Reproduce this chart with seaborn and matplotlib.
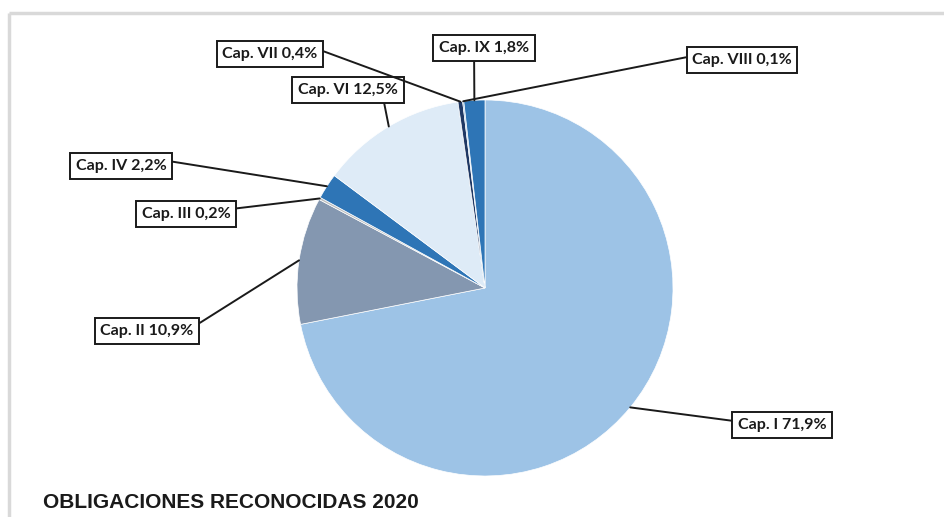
import matplotlib
matplotlib.use("Agg")
import matplotlib.pyplot as plt
import seaborn as sns
import numpy as np

# data
capitulos = ["Cap. I", "Cap. II", "Cap. III", "Cap. IV", "Cap. VI", "Cap. VII", "Cap. VIII", "Cap. IX"]
porcentajes = [71.9, 10.9, 0.2, 2.2, 12.5, 0.4, 0.1, 1.8]
colores = ["#9DC3E6", "#8497B0", "#BFBFBF", "#2E75B6", "#DEEBF7", "#1F3864", "#5B9BD5", "#2E75B6"]
titulo = "OBLIGACIONES RECONOCIDAS 2020"

# label box centres in pixels (from top-left) and where the leader leaves the box
label_pos = [(782, 425), (147, 331), (186, 214), (121, 166), (348, 90), (270, 54), (742, 60), (484, 48)]
rel_pos = [(0, 0.75), (1, 0.8), (1, 0.85), (1, 0.88), (0.85, 0), (1, 0.85), (0, 0.78), (0.39, 0)]

W, H = 944, 517
sns.set_theme(style="white")
plt.rcParams['font.family'] = ['Liberation Sans', 'DejaVu Sans']

fig = plt.figure(figsize=(W / 100, H / 100), dpi=100)
ax = fig.add_axes([0, 0, 1, 1])

cx, cy, r = 485, H - 288, 188
wedges, _ = ax.pie(porcentajes, colors=colores, startangle=90, counterclock=False,
                   center=(cx, cy), radius=r,
                   wedgeprops=dict(edgecolor="white", linewidth=0.5))
ax.set_xlim(0, W)
ax.set_ylim(0, H)
ax.set_aspect("equal")
ax.axis("off")

# leader lines + boxed labels
for w, cap, p, (lx, ly), rp in zip(wedges, capitulos, porcentajes, label_pos, rel_pos):
    ang = np.deg2rad((w.theta1 + w.theta2) / 2)
    anchor = (cx + r * np.cos(ang), cy + r * np.sin(ang))
    txt = f"{cap} {str(p).replace('.', ',')}%"
    ax.annotate(txt, xy=anchor, xytext=(lx, H - ly), ha="center", va="center",
                fontsize=11.5, fontweight="bold", color="#1a1a1a",
                family=["Lato", "DejaVu Sans"],
                bbox=dict(boxstyle="square,pad=0.35", fc="white", ec="#1a1a1a", lw=1.4),
                arrowprops=dict(arrowstyle="-", color="#1a1a1a", lw=1.4,
                                shrinkA=0, shrinkB=0, relpos=rp))

# light grey frame (top and left only, as in the source image)
ax.plot([9, W], [H - 13, H - 13], color="#d9d9d9", lw=2.5, solid_capstyle="butt")
ax.plot([9, 9], [H - 13, 0], color="#d9d9d9", lw=2.5, solid_capstyle="butt")

ax.text(43, H - 503, titulo, fontsize=15, fontweight="bold", ha="left", va="center",
        color="#1a1a1a")

fig.savefig("out.png", dpi=100)
